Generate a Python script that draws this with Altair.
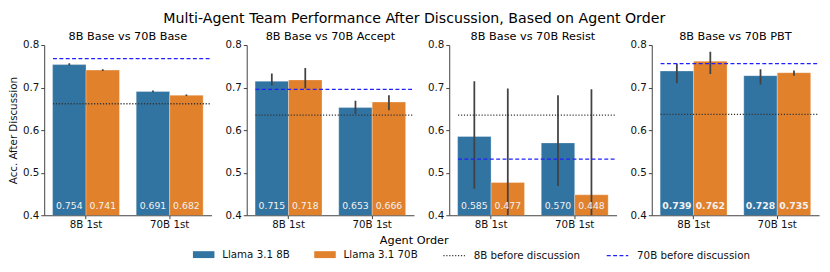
import altair as alt
import pandas as pd

panels = ["8B Base vs 70B Base", "8B Base vs 70B Accept", "8B Base vs 70B Resist", "8B Base vs 70B PBT"]
orders = ["8B 1st", "70B 1st"]
models = ["Llama 3.1 8B", "Llama 3.1 70B"]

# values in order: (8B 1st, 8B), (8B 1st, 70B), (70B 1st, 8B), (70B 1st, 70B)
acc = [
    [0.754, 0.741, 0.691, 0.682],
    [0.715, 0.718, 0.653, 0.666],
    [0.585, 0.477, 0.570, 0.448],
    [0.739, 0.762, 0.728, 0.735],
]
err_lo = [
    [0.752, 0.739, 0.689, 0.680],
    [0.705, 0.698, 0.638, 0.647],
    [0.462, 0.350, 0.469, 0.350],
    [0.710, 0.732, 0.707, 0.728],
]
err_hi = [
    [0.757, 0.743, 0.693, 0.684],
    [0.733, 0.746, 0.669, 0.682],
    [0.715, 0.698, 0.682, 0.696],
    [0.756, 0.784, 0.743, 0.740],
]
before_8b = [0.662, 0.635, 0.635, 0.637]
before_70b = [0.768, 0.696, 0.532, 0.756]
line_names = ["8B before discussion", "70B before discussion"]

W, H = 171, 174
FONT = "DejaVu Sans"

color_scale = alt.Scale(domain=models, range=["#3274A1", "#E1812C"])
stroke_scale = alt.Scale(domain=line_names, range=["#333333", "#2020ff"])
dash_scale = alt.Scale(domain=line_names, range=[[1.2, 1.8], [4, 2.5]])

rect_path = "M-1,-0.32L1,-0.32L1,0.32L-1,0.32Z"


def panel(i):
    rows = []
    k = 0
    for o in orders:
        for m in models:
            rows.append({"order": o, "model": m, "acc": acc[i][k],
                         "lo": err_lo[i][k], "hi": err_hi[i][k],
                         "label": f"{acc[i][k]:.3f}"})
            k += 1
    df = pd.DataFrame(rows)
    lines = pd.DataFrame({"line": line_names, "val": [before_8b[i], before_70b[i]]})

    xenc = alt.X("order:N", sort=orders, title=None,
                 scale=alt.Scale(paddingInner=0.2, paddingOuter=0.1),
                 axis=alt.Axis(labelAngle=0, labelFontSize=10.5, labelColor="#111",
                               tickSize=3.5, tickColor="#404040", domainColor="#404040",
                               labelPadding=1))
    xoff = alt.XOffset("model:N", sort=models)
    yaxis = alt.Axis(values=[0.4, 0.5, 0.6, 0.7, 0.8], format=".1f", grid=False,
                     title="Acc. After Discussion" if i == 0 else None,
                     titleFontSize=10.5, titleFontWeight="normal", titleColor="#111",
                     labelFontSize=10.5, labelColor="#111", tickSize=3.5,
                     tickColor="#404040", domainColor="#404040", labelPadding=2)
    yscale = alt.Scale(domain=[0.4, 0.8], zero=False, nice=False)

    base = alt.Chart(df)
    bars = base.mark_bar(clip=True, stroke="white", strokeWidth=0.6, strokeOpacity=0.5).encode(
        x=xenc, xOffset=xoff,
        y=alt.Y("acc:Q", scale=yscale, axis=yaxis),
        color=alt.Color("model:N", scale=color_scale, sort=models,
                        legend=alt.Legend(title=None, orient="none", direction="horizontal",
                                          legendX=152, legendY=203,
                                          symbolType=rect_path, symbolSize=484,
                                          symbolStrokeWidth=0, labelFontSize=10.5,
                                          columnPadding=24, labelOffset=8)),
    )
    errs = base.mark_rule(clip=True, color="#424242", strokeWidth=1.8).encode(
        x=xenc, xOffset=xoff,
        y=alt.Y("lo:Q", scale=yscale), y2="hi:Q",
    )
    texts = base.mark_text(color="#f2f2f2", fontSize=9.5, baseline="middle",
                           fontWeight="bold" if i == 3 else "normal").encode(
        x=xenc, xOffset=xoff, y=alt.value(H - 9), text="label:N",
    )
    rules = alt.Chart(lines).mark_rule(strokeWidth=1.3).encode(
        y=alt.Y("val:Q", scale=yscale),
        x=alt.value(9), x2=alt.value(W),
        stroke=alt.Stroke("line:N", scale=stroke_scale, sort=line_names,
                          legend=alt.Legend(title=None, orient="none", direction="horizontal",
                                            legendX=407, legendY=203, symbolType="stroke",
                                            symbolSize=484, symbolStrokeWidth=1.3,
                                            labelFontSize=10.5, columnPadding=24,
                                            labelOffset=8)),
        strokeDash=alt.StrokeDash("line:N", scale=dash_scale, sort=line_names, legend=None),
    )
    return alt.layer(bars, errs, rules, texts).properties(
        width=W, height=H,
        title=alt.Title(panels[i], fontSize=11.5, fontWeight="normal", offset=-2),
    )


inner = alt.hconcat(*[panel(i) for i in range(4)], spacing=12).properties(
    title=alt.Title("Agent Order", orient="bottom", anchor="middle", fontSize=11.5,
                    fontWeight="normal", offset=5)
)
chart = alt.vconcat(inner).properties(
    title=alt.Title("Multi-Agent Team Performance After Discussion, Based on Agent Order",
                    fontSize=14.5, fontWeight="normal", anchor="middle", offset=5),
).configure(font=FONT, padding={"left": 0, "top": 0, "right": 2, "bottom": 0}).configure_view(
    stroke=None
).configure_legend(labelFont=FONT, labelColor="#111")

chart.save("out.html", embed_options={"renderer": "svg", "actions": False})
